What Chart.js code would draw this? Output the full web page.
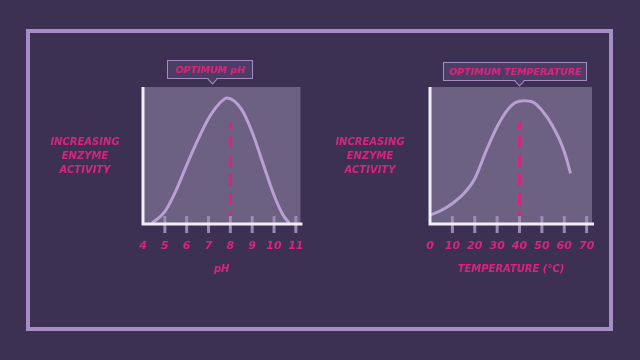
<!DOCTYPE html>
<html>
<head>
<meta charset="utf-8">
<script src="https://cdn.jsdelivr.net/npm/chart.js@4"></script>
<style>
  body { margin: 0; background: #3c3152; width: 640px; height: 360px; overflow: hidden; position: relative; font-family: "DejaVu Sans", sans-serif; }
  .frame { position: absolute; left: 26px; top: 29px; width: 579px; height: 294px; border: 4px solid #a88cc6; }
  canvas { position: absolute; top: 0; }
  .ylab { position: absolute; width: 120px; text-align: center; color: #d8247c; font-weight: bold; font-style: italic; font-size: 10px; line-height: 14px; }
  .callout { position: absolute; height: 17px; border: 1.5px solid #a68bc2; background: #4b3e65; color: #d8247c; font-weight: bold; font-style: italic; font-size: 9.5px; line-height: 17px; text-align: center; white-space: nowrap; box-sizing: content-box; }
  .callout::after { content: ""; position: absolute; left: var(--px); bottom: -5px; width: 6px; height: 6px; margin-left: -4px; background: #4b3e65; border-right: 1.5px solid #a68bc2; border-bottom: 1.5px solid #a68bc2; transform: rotate(45deg); }
</style>
</head>
<body>
<div class="frame"></div>
<canvas id="phChart" width="320" height="360" style="left:0"></canvas>
<canvas id="tempChart" width="320" height="360" style="left:320px"></canvas>

<div class="ylab" style="left:25px; top:135px">INCREASING<br>ENZYME<br>ACTIVITY</div>
<div class="ylab" style="left:310px; top:135px">INCREASING<br>ENZYME<br>ACTIVITY</div>

<div class="callout" style="left:167px; top:60px; width:84px; --px:45px">OPTIMUM pH</div>
<div class="callout" style="left:443px; top:62px; width:142px; --px:76px">OPTIMUM TEMPERATURE</div>

<script>
// pH curve
const phValues = [4.4, 5, 5.5, 6, 6.5, 7, 7.5, 7.85, 8.5, 9, 9.5, 10, 10.4, 10.7];
const phActivity = [0.5, 9, 24, 43, 61, 77, 88, 92, 84, 67, 44, 21, 7, 0.5];
const phTicks = [4, 5, 6, 7, 8, 9, 10, 11];
const phOptimum = 8;

// temperature curve
const tempValues = [0, 5, 10, 15, 20, 25, 30, 35, 38, 42, 46, 50, 55, 60, 62.8];
const tempActivity = [6.5, 10, 15, 22, 33, 53, 71, 84, 88.5, 90, 89, 83, 71, 53, 37];
const tempTicks = [0, 10, 20, 30, 40, 50, 60, 70];
const tempOptimum = 40;

const optimumHeight = 74;

const MAGENTA = "#d8247c";
const LAVENDER = "#b9a0d2";
const FONT = { family: "DejaVu Sans", size: 11, weight: "bold", style: "italic" };

// plot background, axis lines and tick marks
const plotDecor = {
    id: "plotDecor",
    beforeDraw(chart) {
        const ctx = chart.ctx;
        const a = chart.chartArea;
        ctx.save();
        ctx.fillStyle = "#6c6083";
        ctx.fillRect(a.left, a.top, a.right - a.left, a.bottom - a.top);
        ctx.restore();
    },
    afterDatasetsDraw(chart) {
        const ctx = chart.ctx;
        const a = chart.chartArea;
        const x = chart.scales.x;
        ctx.save();
        ctx.strokeStyle = "#9c8ab5";
        ctx.lineWidth = 3;
        x.ticks.forEach(function (t, i) {
            if (i === 0) return;
            const px = x.getPixelForValue(t.value);
            ctx.beginPath();
            ctx.moveTo(px, a.bottom - 8);
            ctx.lineTo(px, a.bottom + 9);
            ctx.stroke();
        });
        ctx.strokeStyle = "#f2eef6";
        ctx.lineWidth = 3;
        ctx.beginPath();
        ctx.moveTo(a.left, a.top);
        ctx.lineTo(a.left, a.bottom);
        ctx.lineTo(a.right + 2, a.bottom);
        ctx.stroke();
        ctx.restore();
    }
};

function makeChart(id, xs, ys, ticks, optimum, xMin, xMax, title, pad) {
    return new Chart(document.getElementById(id), {
        type: "line",
        data: {
            datasets: [{
                data: xs.map((v, i) => ({ x: v, y: ys[i] })),
                borderColor: LAVENDER,
                borderWidth: 3,
                pointRadius: 0,
                cubicInterpolationMode: "monotone",
                fill: false
            }, {
                data: [{ x: optimum, y: 0 }, { x: optimum, y: optimumHeight }],
                borderColor: MAGENTA,
                borderWidth: 3,
                borderDash: [12, 7],
                pointRadius: 0
            }]
        },
        options: {
            responsive: false,
            animation: false,
            layout: { padding: pad },
            plugins: { legend: { display: false }, tooltip: { enabled: false } },
            scales: {
                x: {
                    type: "linear",
                    min: xMin,
                    max: xMax,
                    afterBuildTicks: function (scale) { scale.ticks = ticks.map(v => ({ value: v })); },
                    afterFit: function (scale) { scale.height = 136; },
                    grid: { display: false, drawTicks: false },
                    border: { display: false },
                    ticks: { padding: 16, color: MAGENTA, font: FONT, maxRotation: 0 },
                    title: {
                        display: true,
                        text: title,
                        color: MAGENTA,
                        font: { family: "DejaVu Sans", size: 10, weight: "bold", style: "italic" },
                        padding: { top: 0, bottom: 85 }
                    }
                },
                y: { display: false, min: 0, max: 100 }
            }
        },
        plugins: [plotDecor]
    });
}

makeChart("phChart", phValues, phActivity, phTicks, phOptimum, 4, 11.21, "pH",
    { left: 143, top: 87, right: 17, bottom: 0 });
makeChart("tempChart", tempValues, tempActivity, tempTicks, tempOptimum, 0, 72.4, "TEMPERATURE (°C)",
    { left: 110, top: 87, right: 48, bottom: 0 });
</script>
</body>
</html>
